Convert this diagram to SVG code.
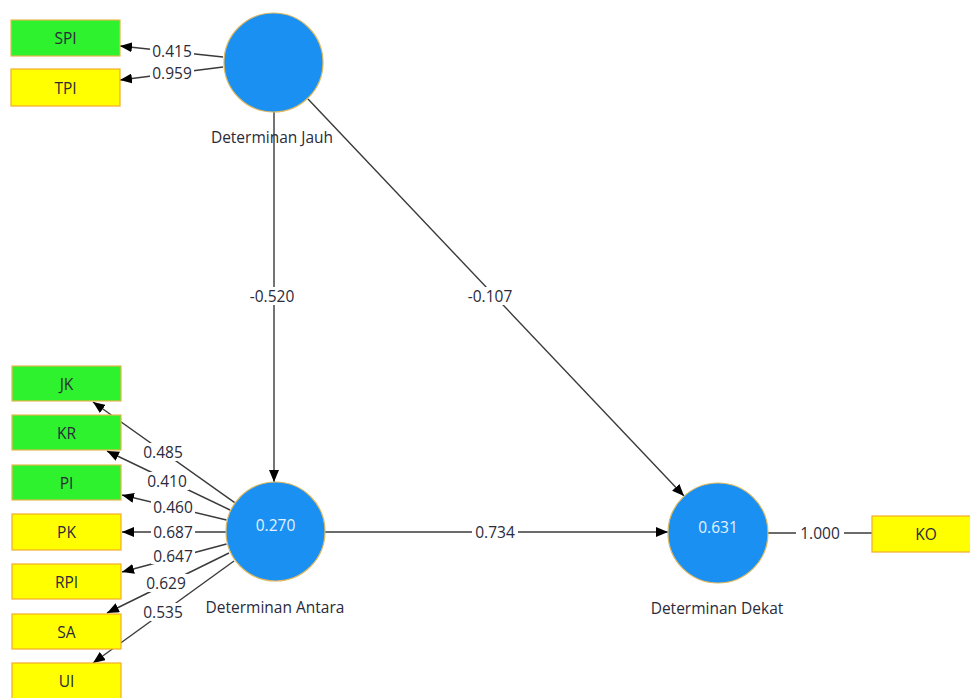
<svg xmlns="http://www.w3.org/2000/svg" width="970" height="698" viewBox="0 0 970 698">
<style>
text{font-family:"Open Sans","Noto Sans","DejaVu Sans",sans-serif;font-size:15.5px;fill:#2a2a3a;text-anchor:middle;dominant-baseline:central}
.g{fill:#2ef22e;stroke:#e6b84c;stroke-width:1.2}
.y{fill:#ffff00;stroke:#f2ac2a;stroke-width:1.2}
.c{fill:#1a90f2;stroke:#dcb860;stroke-width:1.2}
.cv{fill:#e6f0ff}
.ln{stroke:#3a3a3a;stroke-width:1.4;fill:none}
.bg{fill:#fff}
</style>
<defs>
<marker id="ah" viewBox="0 0 12 10" refX="12" refY="5" markerWidth="12" markerHeight="10" markerUnits="userSpaceOnUse" orient="auto">
<path d="M0,0 L12,5 L0,10 z" fill="#000"/>
</marker>
</defs>
<rect width="970" height="698" fill="#fff"/>
<g id="connectors">
<line class="ln" x1="223" y1="57" x2="120" y2="46" marker-end="url(#ah)"/>
<line class="ln" x1="223" y1="67" x2="120" y2="80" marker-end="url(#ah)"/>
<line class="ln" x1="274" y1="112" x2="274" y2="482" marker-end="url(#ah)"/>
<line class="ln" x1="308" y1="99" x2="684" y2="496" marker-end="url(#ah)"/>
<line class="ln" x1="325" y1="532" x2="668" y2="532" marker-end="url(#ah)"/>
<line class="ln" x1="768" y1="533" x2="872" y2="533"/>
<line class="ln" x1="234.7" y1="502.6" x2="93" y2="402" marker-end="url(#ah)"/>
<line class="ln" x1="230" y1="510" x2="107" y2="451" marker-end="url(#ah)"/>
<line class="ln" x1="226.5" y1="520" x2="122" y2="495" marker-end="url(#ah)"/>
<line class="ln" x1="226" y1="532" x2="122" y2="532" marker-end="url(#ah)"/>
<line class="ln" x1="226.5" y1="544" x2="122" y2="572" marker-end="url(#ah)"/>
<line class="ln" x1="229" y1="553" x2="107" y2="613" marker-end="url(#ah)"/>
<line class="ln" x1="234" y1="561" x2="93" y2="663" marker-end="url(#ah)"/>
<rect class="bg" x="150" y="43" width="44" height="16"/><text x="172" y="51">0.415</text>
<rect class="bg" x="150" y="65" width="44" height="16"/><text x="172" y="73">0.959</text>
<rect class="bg" x="247" y="287" width="50" height="18"/><text x="272" y="296">-0.520</text>
<rect class="bg" x="465" y="287" width="50" height="18"/><text x="490" y="296">-0.107</text>
<rect class="bg" x="472" y="524" width="46" height="16"/><text x="495" y="532">0.734</text>
<rect class="bg" x="796" y="525" width="48" height="16"/><text x="820" y="533">1.000</text>
<rect class="bg" x="141" y="443" width="44" height="18"/><text x="163" y="452">0.485</text>
<rect class="bg" x="145" y="472" width="44" height="18"/><text x="167" y="481">0.410</text>
<rect class="bg" x="151" y="499" width="44" height="16"/><text x="173" y="507">0.460</text>
<rect class="bg" x="151" y="524" width="44" height="16"/><text x="173" y="532">0.687</text>
<rect class="bg" x="151" y="548" width="44" height="16"/><text x="173" y="556">0.647</text>
<rect class="bg" x="144" y="574" width="44" height="18"/><text x="166" y="583">0.629</text>
<rect class="bg" x="141" y="603" width="44" height="18"/><text x="163" y="612">0.535</text>
</g>
<g id="n-determinan-jauh">
<circle class="c" cx="273.5" cy="62.5" r="49.5"/>
<text x="272" y="137">Determinan Jauh</text>
</g>
<g id="n-determinan-antara">
<circle class="c" cx="275.5" cy="531.5" r="49.5"/>
<text class="cv" x="275.5" y="525">0.270</text>
<text x="275" y="607">Determinan Antara</text>
</g>
<g id="n-determinan-dekat">
<circle class="c" cx="718" cy="533" r="50"/>
<text class="cv" x="718" y="527">0.631</text>
<text x="717" y="608">Determinan Dekat</text>
</g>
<g id="n-spi"><rect class="g" x="11" y="20" width="109" height="36"/><text x="65.5" y="38">SPI</text></g>
<g id="n-tpi"><rect class="y" x="11" y="69" width="109" height="37"/><text x="65.5" y="87.5">TPI</text></g>
<g id="n-jk"><rect class="g" x="12" y="366" width="109" height="35"/><text x="66.5" y="383.5">JK</text></g>
<g id="n-kr"><rect class="g" x="12" y="415" width="109" height="35"/><text x="66.5" y="432.5">KR</text></g>
<g id="n-pi"><rect class="g" x="12" y="465" width="109" height="35"/><text x="66.5" y="482.5">PI</text></g>
<g id="n-pk"><rect class="y" x="12" y="514" width="109" height="36"/><text x="66.5" y="532">PK</text></g>
<g id="n-rpi"><rect class="y" x="12" y="564" width="109" height="35"/><text x="66.5" y="581.5">RPI</text></g>
<g id="n-sa"><rect class="y" x="12" y="614" width="109" height="35"/><text x="66.5" y="631.5">SA</text></g>
<g id="n-ui"><rect class="y" x="12" y="663" width="109" height="40"/><text x="66.5" y="681">UI</text></g>
<g id="n-ko"><rect class="y" x="872" y="516" width="109" height="36"/><text x="926" y="534">KO</text></g>
</svg>
